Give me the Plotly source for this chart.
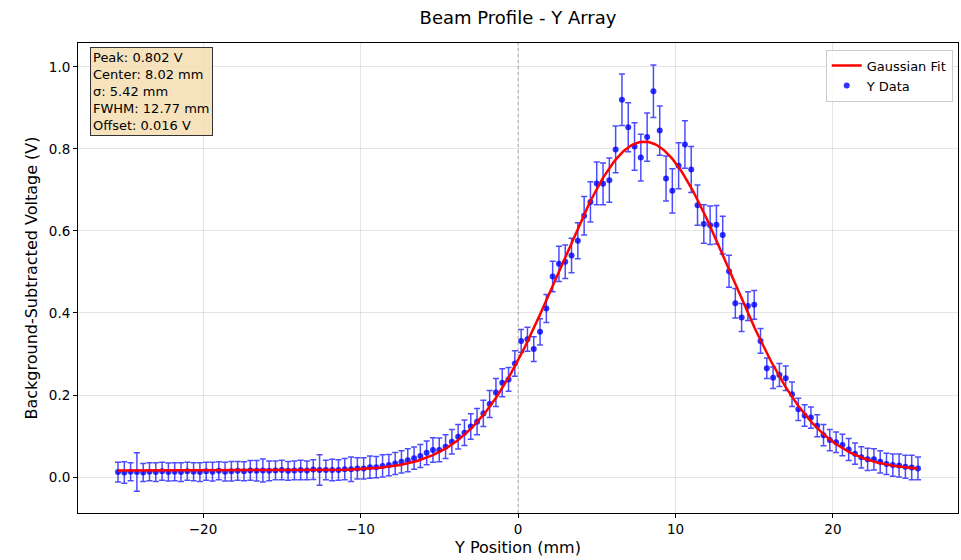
import numpy as np
import plotly.graph_objects as go

# ---- data ----
x_pos = [round(-25.4 + 0.4 * i, 1) for i in range(128)]  # 0.4 mm pitch, -25.4..25.4

y_data = [
    0.012, 0.011, 0.013, 0.012, 0.011, 0.013, 0.012, 0.014, 0.012, 0.013,
    0.012, 0.014, 0.013, 0.012, 0.014, 0.013, 0.015, 0.013, 0.014, 0.015,
    0.014, 0.016, 0.015, 0.016, 0.015, 0.016, 0.017, 0.015, 0.016, 0.017,
    0.016, 0.018, 0.017, 0.017,
    0.017, 0.017, 0.019, 0.019, 0.021, 0.021, 0.024, 0.024, 0.027, 0.029,
    0.033, 0.037, 0.041, 0.046, 0.051, 0.059, 0.066, 0.066, 0.074, 0.086,
    0.098, 0.108, 0.123, 0.135, 0.155, 0.178, 0.206, 0.230,
    0.238, 0.277, 0.332, 0.336, 0.312, 0.354, 0.411, 0.489, 0.520, 0.525,
    0.540, 0.576, 0.637, 0.671, 0.716, 0.715, 0.724, 0.799, 0.920, 0.853,
    0.806, 0.779, 0.829, 0.941, 0.845, 0.728, 0.698, 0.759, 0.811, 0.750,
    0.663, 0.617, 0.614, 0.615, 0.590, 0.502, 0.424, 0.389, 0.417, 0.420,
    0.332, 0.265, 0.242, 0.249, 0.241, 0.202, 0.165, 0.150, 0.145, 0.125,
    0.102, 0.090, 0.085, 0.078, 0.067, 0.057, 0.048, 0.043, 0.043, 0.037,
    0.032, 0.029, 0.028, 0.025, 0.023, 0.021,
]

y_err = [
    0.024, 0.026, 0.022, 0.047, 0.022, 0.022, 0.023, 0.022, 0.022, 0.022,
    0.023, 0.022, 0.022, 0.023, 0.022, 0.023, 0.022, 0.023, 0.024, 0.023,
    0.023, 0.024, 0.025, 0.028, 0.024, 0.023, 0.024, 0.023, 0.023, 0.024,
    0.023, 0.024, 0.037, 0.024,
    0.026, 0.025, 0.026, 0.030, 0.026, 0.026, 0.027, 0.026, 0.027, 0.026,
    0.027, 0.027, 0.028, 0.027, 0.028, 0.029, 0.030, 0.029, 0.029, 0.030,
    0.030, 0.031, 0.031, 0.032, 0.032, 0.033, 0.034, 0.034,
    0.029, 0.031, 0.028, 0.029, 0.030, 0.032, 0.034, 0.037, 0.043, 0.041,
    0.042, 0.044, 0.047, 0.049, 0.052, 0.051, 0.054, 0.057, 0.063, 0.060,
    0.058, 0.057, 0.059, 0.064, 0.060, 0.055, 0.054, 0.056, 0.058, 0.056,
    0.049, 0.047, 0.047, 0.047, 0.046, 0.039, 0.036, 0.034, 0.035, 0.035,
    0.030, 0.025, 0.026, 0.028, 0.030, 0.030, 0.027, 0.026, 0.026, 0.027,
    0.026, 0.026, 0.025, 0.026, 0.027, 0.026, 0.026, 0.027, 0.026, 0.027,
    0.026, 0.027, 0.028, 0.028, 0.030, 0.028,
]

# Gaussian fit parameters (as shown in the chart)
fit_peak = 0.802
fit_center = 8.02
fit_sigma = 5.42
fit_fwhm = 12.77
fit_offset = 0.016

x_fit = np.linspace(min(x_pos), max(x_pos), 500)
y_fit = fit_offset + fit_peak * np.exp(-((x_fit - fit_center) ** 2) / (2 * fit_sigma ** 2))

FONT = "DejaVu Sans"

fig = go.Figure()
fig.add_trace(go.Scatter(
    x=x_pos, y=y_data, mode="markers", name="Y Data",
    marker=dict(color="rgba(0,0,255,0.8)", size=6),
    error_y=dict(type="data", array=y_err, visible=True,
                 color="rgba(0,0,255,0.7)", thickness=1.5, width=3),
    legendrank=2,
))
fig.add_trace(go.Scatter(
    x=x_fit, y=y_fit, mode="lines", name="Gaussian Fit",
    line=dict(color="red", width=2.5),
    legendrank=1,
))

fig.add_shape(type="line", x0=0, x1=0, xref="x", y0=0, y1=1, yref="paper",
              line=dict(color="rgba(128,128,128,0.6)", width=1, dash="dot"),
              layer="below")

box_text = (f"Peak: {fit_peak:.3f} V<br>Center: {fit_center:.2f} mm<br>"
            f"σ: {fit_sigma:.2f} mm<br>FWHM: {fit_fwhm:.2f} mm<br>"
            f"Offset: {fit_offset:.3f} V")
fig.add_annotation(
    x=0.0136, y=0.9915, xref="paper", yref="paper",
    xanchor="left", yanchor="top", align="left", showarrow=False,
    text=box_text, font=dict(family=FONT, size=13, color="black"),
    bgcolor="rgba(245,222,179,0.85)", bordercolor="#333333",
    borderwidth=1, borderpad=2,
)

axis_common = dict(
    showline=True, linecolor="black", linewidth=1, mirror=True,
    ticks="outside", ticklen=4, tickcolor="black",
    showgrid=True, gridcolor="rgba(0,0,0,0.1)", gridwidth=1,
    zeroline=False,
    tickfont=dict(family=FONT, size=13.5, color="black"),
)

fig.update_layout(
    width=961, height=560,
    margin=dict(l=78, r=3, t=43, b=47),
    paper_bgcolor="white", plot_bgcolor="white",
    title=dict(text="Beam Profile - Y Array", x=0.5, xref="paper",
               xanchor="center", y=0.969, yanchor="middle",
               font=dict(family=FONT, size=18, color="black")),
    xaxis=dict(range=[-27.94, 27.94], dtick=10, tick0=0,
               title=dict(text="Y Position (mm)", standoff=5,
                          font=dict(family=FONT, size=16, color="black")),
               **axis_common),
    yaxis=dict(range=[-0.0878, 1.0585], dtick=0.2, tick0=0, tickformat=".1f",
               title=dict(text="Background-Subtracted Voltage (V)", standoff=7,
                          font=dict(family=FONT, size=16, color="black")),
               **axis_common),
    legend=dict(x=0.994, y=0.986, xanchor="right", yanchor="top",
                bgcolor="rgba(255,255,255,0.8)", bordercolor="#cccccc",
                borderwidth=1, font=dict(family=FONT, size=13, color="black"),
                tracegroupgap=0),
    showlegend=True,
)

fig.write_html("out.html")
